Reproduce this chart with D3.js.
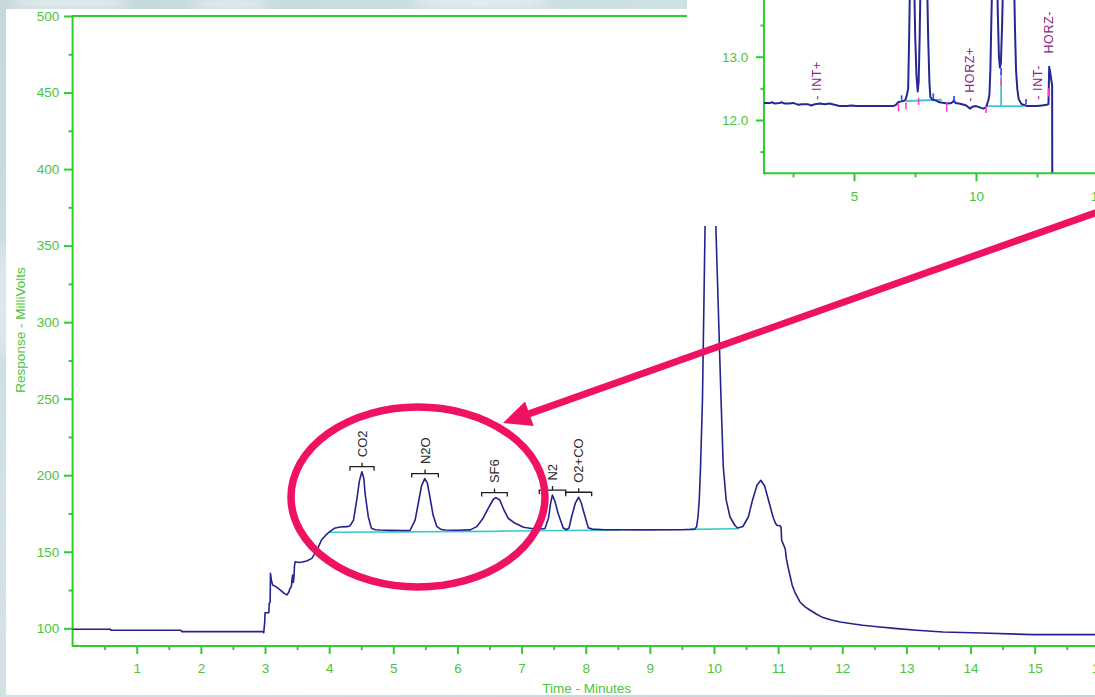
<!DOCTYPE html>
<html>
<head>
<meta charset="utf-8">
<script src="https://cdn.jsdelivr.net/npm/d3@7"></script>
<style>
  html, body { margin: 0; padding: 0; overflow: hidden; background: #cddde0; }
  svg { display: block; }
  text { font-family: "Liberation Sans", Arial, sans-serif; }
</style>
</head>
<body>
<svg id="chart" width="1095" height="697"></svg>
<script>
// ---- Main chromatogram: retention time (min) / detector response (mV) ----
const traceTime = [
  0, 0.59, 0.60, 1.69, 1.70, 2.97, 2.98, 2.995, 3.00, 3.06, 3.065, 3.08, 3.085, 3.10, 3.12,
  3.17, 3.24, 3.30, 3.34, 3.37, 3.39, 3.41, 3.42, 3.43, 3.44, 3.45, 3.46, 3.47, 3.53, 3.58,
  3.65, 3.73, 3.81, 3.88, 3.95, 4.01, 4.08, 4.17, 4.28, 4.325, 4.38, 4.43, 4.47, 4.51, 4.54,
  4.56, 4.61, 4.66, 4.72, 4.79, 4.95, 5.15, 5.26, 5.34, 5.39, 5.44, 5.49, 5.53, 5.57, 5.62,
  5.68, 5.75, 5.81, 6.00, 6.20, 6.30, 6.40, 6.48, 6.56, 6.60, 6.66, 6.73, 6.79, 6.90, 7.03,
  7.18, 7.30, 7.365, 7.42, 7.45, 7.48, 7.52, 7.57, 7.65, 7.70, 7.74, 7.78, 7.84, 7.89, 7.93,
  7.96, 8.04, 8.10, 8.30, 8.90, 9.50, 9.63, 9.70, 9.73, 9.75, 9.77, 9.79, 9.82, 9.86, 9.91,
  9.95, 9.99, 10.03, 10.11, 10.145, 10.19, 10.25, 10.33, 10.37, 10.45, 10.535, 10.60, 10.67, 10.73, 10.79,
  10.85, 10.92, 10.96, 10.98, 11.03, 11.045, 11.055, 11.08, 11.11, 11.13, 11.16, 11.19, 11.22, 11.26, 11.34,
  11.42, 11.50, 11.60, 11.70, 11.83, 11.97, 12.15, 12.32, 12.55, 12.85, 13.16, 13.57, 14.17, 14.97, 16.50
];
const traceMV = [
  99.4, 99.4, 98.7, 98.7, 97.8, 97.8, 97.1, 104, 110.2, 110.2, 116.3, 117, 135.9, 131, 128.3,
  127.2, 125, 122.8, 121.8, 123.5, 126.1, 127, 131.5, 134.8, 130, 133, 141, 143.5, 143, 143.3,
  144, 145.7, 151.1, 157.7, 161, 163.1, 165.3, 166.2, 166.4, 167, 170.7, 183.8, 196, 202.3, 198,
  188.2, 172.9, 165.3, 164.4, 164.2, 164, 163.9, 163.9, 170.7, 181.7, 193, 197.8, 195, 186, 174,
  166.4, 164.5, 164.2, 164.1, 164.3, 166.4, 171.9, 178.4, 184.3, 185.4, 183.8, 176.8, 171.9, 168.6, 166,
  165, 164.9, 165.2, 172, 181, 187, 183, 175, 165.5, 164.4, 165.5, 172.9, 182, 185.6, 182,
  177.3, 165.6, 164.8, 164.4, 164.3, 164.4, 164.6, 164.8, 166.5, 172.7, 183.7, 205.4, 249, 361, 440,
  462, 440, 361, 249, 205.4, 183.7, 172.7, 167, 165.5, 166.5, 172.7, 183.7, 193.5, 196.7, 193,
  183.7, 172.7, 168.5, 167.3, 167, 166, 157.5, 155, 152, 145, 139, 133.5, 128, 123.7, 117.2,
  114, 111.8, 109.2, 107, 105.4, 104.1, 103, 102, 101, 99.8, 98.7, 97.6, 96.9, 95.9, 95.9
];

// Integration baseline segments (start/end time and level)
const baseT0 = [4.01, 6.62, 9.63];
const baseV0 = [162.7, 163.5, 164.6];
const baseT1 = [6.62, 8.54, 10.37];
const baseV1 = [163.3, 164.2, 165.0];

// Identified peaks: window start/end (min) and apex height (mV)
const peakNames = ["CO2", "N2O", "SF6", "N2", "O2+CO"];
const peakStart = [4.325, 5.287, 6.378, 7.276, 7.688];
const peakEnd   = [4.700, 5.702, 6.777, 7.688, 8.093];
const peakApex  = [202.3, 197.8, 185.4, 187.0, 185.6];

// Axis ticks
const xTicks = d3.range(1, 17);
const xMinor = d3.range(0.5, 16.5, 1);
const yTicks = [100, 150, 200, 250, 300, 350, 400, 450, 500];
const yMinor = [125, 175, 225, 275, 325, 375, 425, 475];

// ---- Inset: expanded view of the baseline (units as recorded) ----
const insetTime = [
  1.31, 1.55, 1.65, 1.75, 1.95, 2.05, 2.15, 2.35, 2.5, 2.65, 2.75, 2.85, 3.1, 3.25, 3.4,
  3.6, 3.8, 4.0, 4.2, 4.4, 4.7, 4.9, 5.1, 5.4, 5.8, 6.2, 6.6, 6.72, 6.8, 6.9,
  7.0, 7.1, 7.17, 7.22, 7.26, 7.30, 7.38, 7.46, 7.51, 7.56, 7.61, 7.65, 7.69, 7.74, 7.86,
  7.98, 8.04, 8.09, 8.13, 8.22, 8.35, 8.5, 8.7, 8.85, 9.0, 9.1, 9.15, 9.3, 9.5, 9.6,
  9.75, 9.85, 10.0, 10.15, 10.3, 10.41, 10.5, 10.55, 10.59, 10.63, 10.67, 10.77, 10.86, 10.9, 10.94,
  10.98, 11.02, 11.07, 11.11, 11.15, 11.35, 11.55, 11.6, 11.64, 11.69, 11.75, 11.85, 11.93, 12.1, 12.3,
  12.5, 12.7, 12.9, 12.97, 13.0, 13.03, 13.06, 13.09, 13.12, 13.125
];
const insetResp = [
  12.27, 12.27, 12.28, 12.26, 12.27, 12.28, 12.26, 12.26, 12.27, 12.25, 12.24, 12.25, 12.25, 12.23, 12.25,
  12.26, 12.25, 12.26, 12.24, 12.22, 12.22, 12.23, 12.22, 12.22, 12.22, 12.22, 12.22, 12.24, 12.28, 12.29,
  12.30, 12.31, 12.40, 12.50, 13.3, 14.3, 15.5, 14.3, 13.3, 12.7, 12.45, 12.6, 13.3, 14.5, 15.5,
  14.5, 13.3, 12.6, 12.36, 12.32, 12.31, 12.28, 12.27, 12.26, 12.27, 12.31, 12.27, 12.26, 12.24, 12.23,
  12.18, 12.21, 12.22, 12.20, 12.18, 12.20, 12.30, 12.40, 12.8, 13.6, 14.3, 15.3, 14.3, 13.6, 13.0,
  12.83, 12.9, 13.5, 14.2, 14.6, 15.3, 14.4, 13.4, 12.8, 12.5, 12.33, 12.26, 12.24, 12.22, 12.22,
  12.22, 12.23, 12.24, 12.25, 12.84, 12.78, 12.70, 12.62, 12.55, 11.17
];
// baseline construction lines
const insetBaseT0 = [7.15, 10.41, 11.03];
const insetBaseV0 = [12.30, 12.22, 12.22];
const insetBaseT1 = [8.60, 11.93, 11.03];
const insetBaseV1 = [12.32, 12.22, 12.76];
// peak start/stop marks
const markTime   = [6.82, 7.13, 7.65, 8.80, 10.41, 11.03, 12.98];
const markTop    = [12.27, 12.28, 12.35, 12.27, 12.22, 12.66, 12.50];
const markBottom = [12.14, 12.17, 12.24, 12.13, 12.11, 12.54, 12.37];
// detected apex / slope marks
const tickTime   = [6.95, 8.25, 9.10, 12.05, 11.03];
const tickTop    = [12.39, 12.42, 12.38, 12.33, 12.82];
const tickBottom = [12.32, 12.32, 12.27, 12.25, 12.71];
// timed events
const eventText = ["- INT+", "- HORZ+", "- INT-", "HORZ-"];
const eventTime = [3.47, 9.75, 12.53, 12.96];
const eventResp = [12.32, 12.29, 12.32, 13.05];
const insetXTicks = [5, 10, 15];
const insetXMinor = [2.5, 7.5, 12.5];
const insetYTicks = [12, 13, 14];
const insetYMinor = [11.5, 12.5, 13.5];

// ---- Callout: region of interest and pointer (in main-chart units) ----
const roiCenter = [5.385, 185.8];
const roiRadius = [1.98, 58.8];
const pointerFrom = [16.3, 376.7];
const pointerTo = [6.71, 234.1];

// ---------------------------------------------------------------
const W = 1095, H = 697;
const GREEN = "#2fcc2f", LABEL = "#4cc43a", TRACE = "#23238c", CYAN = "#3cc9cc";
const svg = d3.select("#chart");
const defs = svg.append("defs");

// backdrop
const g0 = defs.append("linearGradient").attr("id", "bg")
  .attr("x1", 0).attr("y1", 0).attr("x2", 1).attr("y2", 1);
g0.append("stop").attr("offset", "0%").attr("stop-color", "#c6d8db");
g0.append("stop").attr("offset", "45%").attr("stop-color", "#d4e4e6");
g0.append("stop").attr("offset", "100%").attr("stop-color", "#c3d3d6");
svg.append("rect").attr("width", W).attr("height", H).attr("fill", "url(#bg)");
defs.append("filter").attr("id", "soft").append("feGaussianBlur").attr("stdDeviation", 5);
const glow = svg.append("g").attr("filter", "url(#soft)").attr("fill", "#eef8f8").attr("opacity", 0.7);
[[70, 3, 60, 6], [230, 4, 40, 5], [480, 2, 70, 6], [3, 300, 4, 60]].forEach(d =>
  glow.append("ellipse").attr("cx", d[0]).attr("cy", d[1]).attr("rx", d[2]).attr("ry", d[3]));

// main white panel
svg.append("rect").attr("x", 6).attr("y", 9).attr("width", W).attr("height", 686).attr("fill", "#ffffff");

// ---- main chart ----
const x = d3.scaleLinear().domain([0, 16.5]).range([72.6, 72.6 + 16.5 * 64.14]);
const y = d3.scaleLinear().domain([100, 500]).range([628.3, 16]);
const yBottom = 88.4;
const main = svg.append("g");

function styleAxis(g, fs) {
  g.select(".domain").remove();
  g.selectAll("line").attr("stroke", GREEN).attr("stroke-width", 2);
  g.selectAll("text").attr("fill", LABEL).attr("font-size", fs)
    .attr("font-family", "'Liberation Sans', Arial, sans-serif");
}

// frame lines
main.append("line").attr("x1", x(0)).attr("x2", W + 5).attr("y1", y(500)).attr("y2", y(500))
  .attr("stroke", GREEN).attr("stroke-width", 2);
main.append("line").attr("x1", x(0)).attr("x2", W + 5).attr("y1", y(yBottom)).attr("y2", y(yBottom))
  .attr("stroke", GREEN).attr("stroke-width", 2);
main.append("line").attr("x1", x(0)).attr("x2", x(0)).attr("y1", y(500) - 1).attr("y2", y(yBottom) + 1)
  .attr("stroke", GREEN).attr("stroke-width", 2);

main.append("g").attr("transform", `translate(0,${y(yBottom)})`)
  .call(d3.axisBottom(x).tickValues(xTicks).tickSize(8).tickPadding(9).tickFormat(d3.format("d")))
  .call(g => styleAxis(g, "13.5px"));
main.append("g").attr("transform", `translate(0,${y(yBottom)})`)
  .call(d3.axisBottom(x).tickValues(xMinor).tickSize(4).tickFormat(""))
  .call(g => styleAxis(g, "1px"));
main.append("g").attr("transform", `translate(${x(0)},0)`)
  .call(d3.axisLeft(y).tickValues(yTicks).tickSize(8.6).tickPadding(4.7).tickFormat(d3.format("d")))
  .call(g => styleAxis(g, "13.5px"));
main.append("g").attr("transform", `translate(${x(0)},0)`)
  .call(d3.axisLeft(y).tickValues(yMinor).tickSize(4).tickFormat(""))
  .call(g => styleAxis(g, "1px"));

// axis titles
main.append("text").attr("x", 586.7).attr("y", 693.3).attr("text-anchor", "middle")
  .attr("fill", LABEL).attr("font-size", "13.5px").text("Time - Minutes");
main.append("text").attr("transform", "translate(20,330) rotate(-90)")
  .attr("text-anchor", "middle").attr("dy", "0.35em")
  .attr("fill", LABEL).attr("font-size", "13.5px").text("Response - MilliVolts");

// integration baselines
main.selectAll("line.base").data(baseT0).join("line").attr("class", "base")
  .attr("x1", (d, i) => x(baseT0[i])).attr("y1", (d, i) => y(baseV0[i]))
  .attr("x2", (d, i) => x(baseT1[i])).attr("y2", (d, i) => y(baseV1[i]))
  .attr("stroke", CYAN).attr("stroke-width", 1.6);

// trace
const tracePts = traceTime.map((t, i) => [t, traceMV[i]]);
main.append("path").datum(tracePts)
  .attr("d", d3.line().x(d => x(d[0])).y(d => y(d[1])))
  .attr("fill", "none").attr("stroke", TRACE).attr("stroke-width", 1.6)
  .attr("stroke-linejoin", "round");

// peak brackets and names
const peaks = peakNames.map((n, i) => ({
  name: n, x0: x(peakStart[i]), x1: x(peakEnd[i]),
  xc: x((peakStart[i] + peakEnd[i]) / 2), by: y(peakApex[i]) - 5
}));
const pg = main.append("g").attr("stroke", "#1e1e1e").attr("stroke-width", 1.3).attr("fill", "none");
peaks.forEach(p => {
  pg.append("path").attr("d",
    `M${p.x0},${p.by + 4}V${p.by}H${p.x1}V${p.by + 4}M${p.xc},${p.by}V${p.by - 4}`);
});
main.selectAll("text.peak").data(peaks).join("text").attr("class", "peak")
  .attr("transform", p => `translate(${p.xc},${p.by - 9.5}) rotate(-90)`)
  .attr("dy", "0.36em").attr("text-anchor", "start")
  .attr("fill", "#2a2a2a").attr("font-size", "13px").text(p => p.name);

// ---- inset ----
svg.append("rect").attr("x", 687).attr("y", -2).attr("width", 420).attr("height", 228).attr("fill", "#ffffff");
const ix = d3.scaleLinear().domain([1.31, 16]).range([732 + 1.31 * 24.4, 732 + 16 * 24.4]);
const iy = d3.scaleLinear().domain([12, 13]).range([120, 56.7]);
const iBottom = 11.158;
const inset = svg.append("g");

inset.append("line").attr("x1", ix(1.31)).attr("x2", W + 5).attr("y1", iy(iBottom)).attr("y2", iy(iBottom))
  .attr("stroke", GREEN).attr("stroke-width", 2);
inset.append("line").attr("x1", ix(1.31)).attr("x2", ix(1.31)).attr("y1", -5).attr("y2", iy(iBottom) + 1)
  .attr("stroke", GREEN).attr("stroke-width", 2);
inset.append("g").attr("transform", `translate(0,${iy(iBottom)})`)
  .call(d3.axisBottom(ix).tickValues(insetXTicks).tickSize(8).tickPadding(10).tickFormat(d3.format("d")))
  .call(g => styleAxis(g, "13.5px"));
inset.append("g").attr("transform", `translate(0,${iy(iBottom)})`)
  .call(d3.axisBottom(ix).tickValues(insetXMinor).tickSize(4).tickFormat(""))
  .call(g => styleAxis(g, "1px"));
inset.append("g").attr("transform", `translate(${ix(1.31)},0)`)
  .call(d3.axisLeft(iy).tickValues(insetYTicks).tickSize(8).tickPadding(7.7).tickFormat(d3.format(".1f")))
  .call(g => styleAxis(g, "13.5px"));
inset.append("g").attr("transform", `translate(${ix(1.31)},0)`)
  .call(d3.axisLeft(iy).tickValues(insetYMinor).tickSize(3.5).tickFormat(""))
  .call(g => styleAxis(g, "1px"));

// baseline construction
inset.selectAll("line.ib").data(insetBaseT0).join("line").attr("class", "ib")
  .attr("x1", (d, i) => ix(insetBaseT0[i])).attr("y1", (d, i) => iy(insetBaseV0[i]))
  .attr("x2", (d, i) => ix(insetBaseT1[i])).attr("y2", (d, i) => iy(insetBaseV1[i]))
  .attr("stroke", CYAN).attr("stroke-width", 1.8);

// trace
const insetPts = insetTime.map((t, i) => [t, insetResp[i]]);
inset.append("path").datum(insetPts)
  .attr("d", d3.line().x(d => ix(d[0])).y(d => iy(d[1])))
  .attr("fill", "none").attr("stroke", "#27288f").attr("stroke-width", 2)
  .attr("stroke-linejoin", "round");

// marks
inset.selectAll("line.mk").data(markTime).join("line").attr("class", "mk")
  .attr("x1", d => ix(d)).attr("x2", d => ix(d))
  .attr("y1", (d, i) => iy(markTop[i])).attr("y2", (d, i) => iy(markBottom[i]))
  .attr("stroke", "#ff3fd0").attr("stroke-width", 1.6);
inset.selectAll("line.tk").data(tickTime).join("line").attr("class", "tk")
  .attr("x1", d => ix(d)).attr("x2", d => ix(d))
  .attr("y1", (d, i) => iy(tickTop[i])).attr("y2", (d, i) => iy(tickBottom[i]))
  .attr("stroke", "#2a3cff").attr("stroke-width", 1.6);

// event labels
inset.selectAll("text.ev").data(eventText).join("text").attr("class", "ev")
  .attr("transform", (d, i) => `translate(${ix(eventTime[i])},${iy(eventResp[i])}) rotate(-90)`)
  .attr("dy", "0.36em").attr("text-anchor", "start")
  .attr("fill", "#8a2385").attr("font-size", "12.5px").attr("letter-spacing", "0.6px")
  .text(d => d);

// ---- callout ----
const RED = "#ef1262";
const callout = svg.append("g");
callout.append("ellipse")
  .attr("cx", x(roiCenter[0])).attr("cy", y(roiCenter[1]))
  .attr("rx", x(roiCenter[0] + roiRadius[0]) - x(roiCenter[0]))
  .attr("ry", y(roiCenter[1]) - y(roiCenter[1] + roiRadius[1]))
  .attr("fill", "none").attr("stroke", RED).attr("stroke-width", 7.5);

const tip = [x(pointerTo[0]), y(pointerTo[1])];
const tail = [x(pointerFrom[0]), y(pointerFrom[1])];
const len = Math.hypot(tail[0] - tip[0], tail[1] - tip[1]);
const u = [(tail[0] - tip[0]) / len, (tail[1] - tip[1]) / len];
const headLen = 28, headHalf = 13;
const base = [tip[0] + u[0] * headLen, tip[1] + u[1] * headLen];
const perp = [-u[1], u[0]];
callout.append("line")
  .attr("x1", tail[0]).attr("y1", tail[1]).attr("x2", base[0] - u[0] * 2).attr("y2", base[1] - u[1] * 2)
  .attr("stroke", RED).attr("stroke-width", 7);
callout.append("polygon")
  .attr("points", [tip,
    [base[0] + perp[0] * headHalf, base[1] + perp[1] * headHalf],
    [base[0] - perp[0] * headHalf, base[1] - perp[1] * headHalf]].map(p => p.join(",")).join(" "))
  .attr("fill", RED);
</script>
</body>
</html>
